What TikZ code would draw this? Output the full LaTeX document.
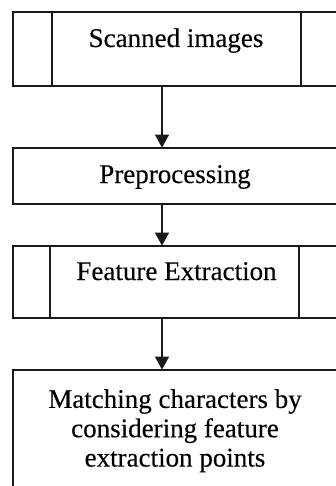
\documentclass[tikz,border=0pt]{standalone}
\usepackage{fontspec}
\setmainfont{Liberation Serif}
\newfontfamily\reffont[FakeBold=0.25]{Liberation Serif}
\usetikzlibrary{arrows.meta}
\begin{document}
\begin{tikzpicture}[x=1pt,y=-1pt,
  boxline/.style={draw=black!90,line width=1.6pt},
  stepbox/.style={boxline,rectangle,inner sep=0pt,anchor=north west,minimum width=328pt},
  lbl/.style={inner sep=0pt,font=\reffont\fontsize{27}{29.3}\selectfont,align=center,text=black},
  arr/.style={draw=black!90,line width=1.5pt,-{Triangle[length=13pt,width=14pt]},shorten >=-0.6pt}
]
\useasboundingbox (0,0) rectangle (336,486);
\clip (0,0) rectangle (336,486);
\fill[white] (0,0) rectangle (336,486);
% boxes
\node[stepbox,minimum height=74pt] (b1) at (12,11) {};
\node[stepbox,minimum height=56pt] (b2) at (12,147) {};
\node[stepbox,minimum height=72pt] (b3) at (12,245) {};
\node[stepbox,minimum height=140pt] (b4) at (12,369) {};
% side bars
\draw[boxline] (52,11) -- (52,85) (301,11) -- (301,85);
\draw[boxline] (50,245) -- (50,317) (299,245) -- (299,317);
% labels
\node[lbl,anchor=base] (t1) at (176,47) {Scanned images};
\node[lbl,anchor=base] (t2) at (175,183) {Preprocessing};
\node[lbl,anchor=base] (t3) at (176.5,280) {Feature Extraction};
\node[lbl,anchor=north] (t4) at (175,389) {Matching characters by\\considering feature\\extraction points};
% arrows
\coordinate (ax) at (162,0);
\draw[arr] (b1.south -| ax) -- (b2.north -| ax);
\draw[arr] (b2.south -| ax) -- (b3.north -| ax);
\draw[arr] (b3.south -| ax) -- (b4.north -| ax);
\end{tikzpicture}
\end{document}
